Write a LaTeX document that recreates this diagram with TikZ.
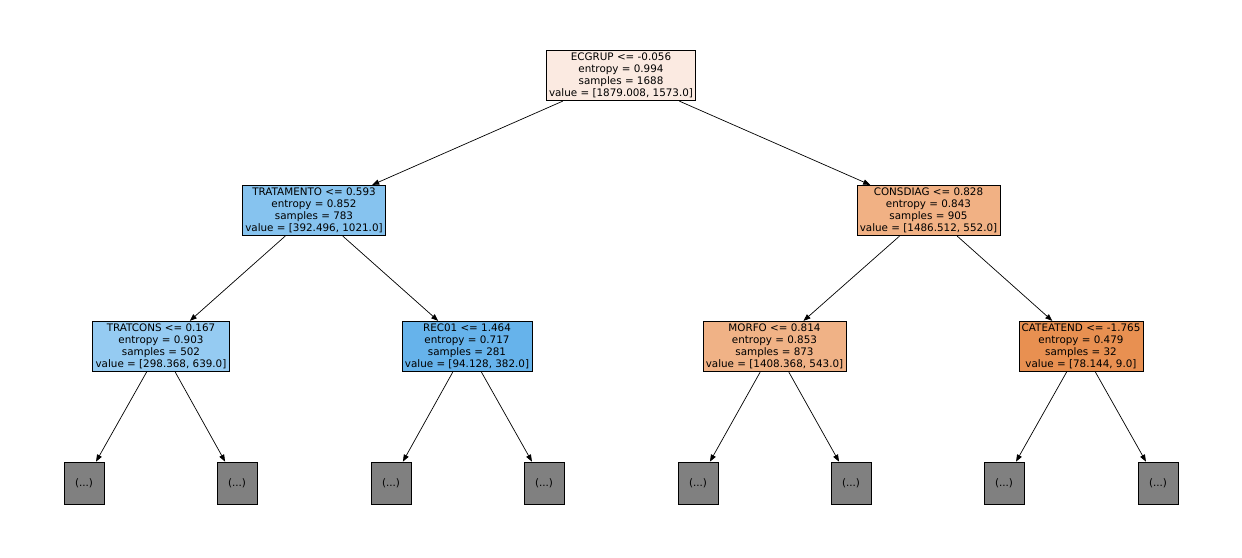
\documentclass[tikz,border=0pt]{standalone}
\usepackage{fontspec}
\setmainfont{DejaVu Sans}
\usetikzlibrary{arrows.meta}
\definecolor{rootc}{HTML}{FBEAE1}
\definecolor{tratc}{HTML}{86C3EF}
\definecolor{consc}{HTML}{F1B184}
\definecolor{tconc}{HTML}{95CBF2}
\definecolor{recc}{HTML}{66B3EB}
\definecolor{morfc}{HTML}{F0B286}
\definecolor{catec}{HTML}{E89051}
\tikzset{
  split/.style={draw, align=center, inner sep=1.6pt, font=\fontsize{5.9}{6.8}\selectfont},
  leaf/.style={draw, fill=gray!100!white, fill=black!50, minimum width=0.8cm, minimum height=0.84cm, inner sep=0pt, font=\fontsize{5.9}{6.8}\selectfont},
  edge/.style={-{Stealth[length=4pt,width=3pt,inset=0pt]}, line width=0.4pt, shorten >=0pt}
}
\begin{document}
\begin{tikzpicture}[x=0.02cm, y=-0.02cm]
  \useasboundingbox (0,0) rectangle (1242,558);
  % split nodes
  \node[split, fill=rootc] (root) at (621,75.5) {ECGRUP <= -0.056\\entropy = 0.994\\samples = 1688\\value = [1879.008, 1573.0]};
  \node[split, fill=tratc] (trat) at (314,210.5) {TRATAMENTO <= 0.593\\entropy = 0.852\\samples = 783\\value = [392.496, 1021.0]};
  \node[split, fill=consc] (cons) at (928.5,210.5) {CONSDIAG <= 0.828\\entropy = 0.843\\samples = 905\\value = [1486.512, 552.0]};
  \node[split, fill=tconc] (tcon) at (161,346.5) {TRATCONS <= 0.167\\entropy = 0.903\\samples = 502\\value = [298.368, 639.0]};
  \node[split, fill=recc] (rec) at (467,346.5) {REC01 <= 1.464\\entropy = 0.717\\samples = 281\\value = [94.128, 382.0]};
  \node[split, fill=morfc] (morf) at (774.5,346.5) {MORFO <= 0.814\\entropy = 0.853\\samples = 873\\value = [1408.368, 543.0]};
  \node[split, fill=catec] (cate) at (1081,346.5) {CATEATEND <= -1.765\\entropy = 0.479\\samples = 32\\value = [78.144, 9.0]};
  % truncated leaves
  \foreach \x [count=\i] in {84,237,391,544,698,851,1004,1158}
    \node[leaf] (l\i) at (\x,483) {(...)};
  % edges
  \draw[edge] (root) -- (trat);
  \draw[edge] (root) -- (cons);
  \draw[edge] (trat) -- (tcon);
  \draw[edge] (trat) -- (rec);
  \draw[edge] (cons) -- (morf);
  \draw[edge] (cons) -- (cate);
  \draw[edge] (tcon) -- (l1);
  \draw[edge] (tcon) -- (l2);
  \draw[edge] (rec) -- (l3);
  \draw[edge] (rec) -- (l4);
  \draw[edge] (morf) -- (l5);
  \draw[edge] (morf) -- (l6);
  \draw[edge] (cate) -- (l7);
  \draw[edge] (cate) -- (l8);
\end{tikzpicture}
\end{document}
